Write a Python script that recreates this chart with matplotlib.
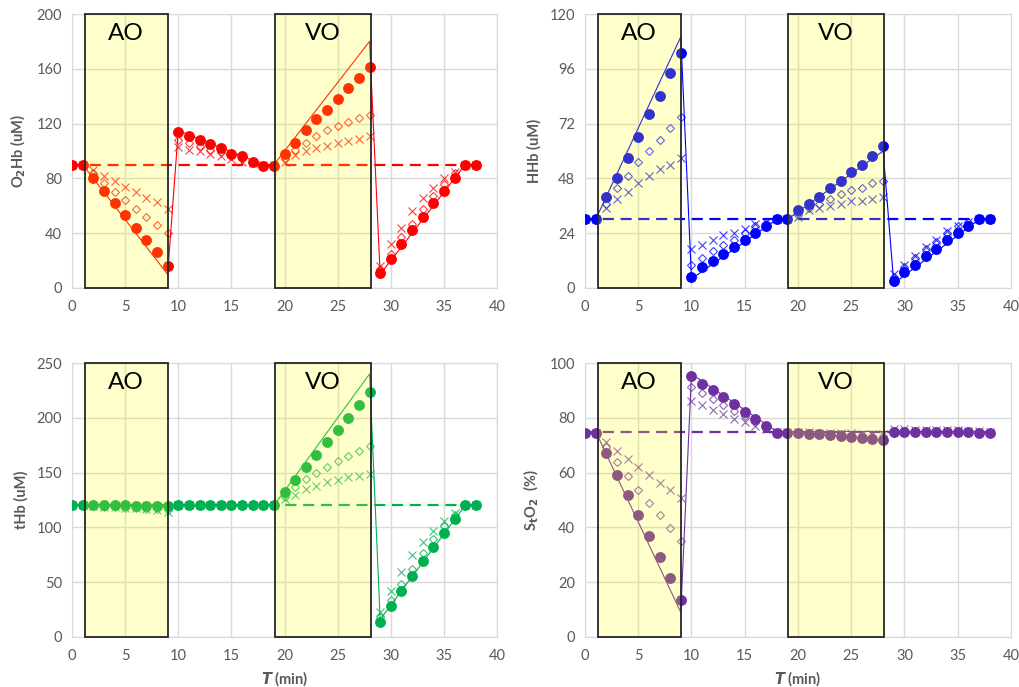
import matplotlib.pyplot as plt
from matplotlib.patches import Rectangle

plt.rcParams['font.family'] = ['Lato', 'DejaVu Sans']

t = list(range(39))

# O2Hb
o2hb_line_t = [0, 1, 9, 10, 18, 19, 28, 29, 37, 38]
o2hb_line = [90, 90, 10, 115, 90, 90, 180, 10, 90, 90]
o2hb_circ = [90, 90, 80, 71, 62, 53, 44, 35, 26, 16,
             114, 111, 108, 105, 102, 98, 96, 92, 89, 89,
             98, 106, 115, 123, 130, 138, 146, 153, 161,
             11, 21, 32, 42, 52, 62, 71, 80, 90, 90]
o2hb_diam = [90, 90, 84, 77, 70, 64, 58, 52, 46, 40,
             108, 106, 104, 101, 99, 96, 94, 92, 90, 90,
             94, 101, 106, 111, 115, 118, 121, 124, 126,
             14, 25, 37, 47, 58, 67, 76, 84, 90, 90]
o2hb_x = [90, 90, 86, 82, 78, 74, 70, 66, 63, 58,
          103, 101, 100, 98, 96, 94, 92, 91, 90, 90,
          92, 97, 100, 102, 104, 106, 107, 109, 111,
          16, 32, 44, 56, 66, 73, 80, 85, 90, 90]

# HHb
hhb_line_t = [0, 1, 9, 10, 18, 19, 28, 29, 37, 38]
hhb_line = [30, 30, 110, 4, 30, 30, 60, 2, 30, 30]
hhb_circ = [30, 30, 40, 48, 57, 66, 76, 84, 94, 103,
            5, 9, 12, 15, 18, 21, 24, 27, 30, 30,
            34, 37, 40, 44, 47, 51, 54, 58, 62,
            3, 7, 10, 14, 17, 21, 24, 27, 30, 30]
hhb_diam = [30, 30, 37, 44, 49, 55, 60, 65, 70, 75,
            10, 13, 16, 19, 21, 24, 27, 28, 30, 30,
            32, 35, 37, 39, 41, 43, 44, 46, 47,
            5, 9, 13, 17, 20, 24, 27, 29, 30, 30]
hhb_x = [30, 30, 35, 39, 42, 46, 49, 52, 54, 57,
         17, 19, 21, 23, 24, 26, 28, 29, 30, 30,
         31, 34, 35, 36, 37, 38, 38, 39, 40,
         6, 10, 14, 18, 21, 25, 27, 29, 30, 30]

# tHb
thb_line_t = [0, 19, 28, 29, 37, 38]
thb_line = [120, 120, 240, 16, 120, 120]
thb_circ = [120, 120, 120, 120, 120, 120, 119.5, 119.5, 119.5, 119.5,
            120, 120, 120, 120, 120, 120, 120, 120, 120, 120,
            132, 143, 155, 166, 178, 189, 200, 212, 224,
            14, 28, 42, 56, 69, 82, 95, 108, 120, 120]
thb_diam = [120, 120, 119.5, 119, 118.5, 118, 117.5, 117, 116.5, 116,
            120, 120, 120, 120, 120, 120, 120, 120, 120, 120,
            128, 137, 144, 150, 155, 161, 165, 170, 174,
            18, 34, 48, 62, 77, 89, 101, 111, 120, 120]
thb_x = [120, 120, 119.5, 119, 118.5, 118, 117.5, 116.5, 115.5, 114.5,
         120, 120, 120, 120, 120, 120, 120, 120, 120, 120,
         126, 130, 135, 138, 141, 143, 146, 147, 149,
         23, 42, 59, 75, 87, 97, 106, 113, 120, 120]

# StO2
so2_line_t = [0, 1, 9, 10, 18, 38]
so2_line = [75, 75, 9, 96, 75, 75]
so2_circ = [74.5, 74.5, 67, 59.3, 52, 44.5, 37, 29.2, 21.6, 13.6,
            95.2, 92.5, 90, 87.5, 85, 82.3, 79.7, 77, 74.5, 74.5,
            74.3, 74.2, 74, 73.7, 73.4, 73.1, 72.7, 72.4, 72,
            75, 75, 75, 74.9, 74.9, 74.8, 74.8, 74.7, 74.5, 74.5]
so2_diam = [74.5, 74.5, 69.5, 63.7, 58.7, 53.7, 49, 44.5, 39.8, 35.2,
            91.2, 88.9, 86.7, 84.7, 82.6, 80.6, 78.6, 76.5, 75, 75,
            74.6, 74.5, 74.4, 74.2, 74, 73.9, 73.7, 73.5, 73.3,
            75.3, 75.3, 75.3, 75.2, 75.2, 75.1, 75.1, 75, 75, 75]
so2_x = [74.5, 74.5, 71.3, 68, 64.9, 61.9, 59, 56.3, 53.6, 50.9,
         86.1, 84.5, 82.8, 81.3, 79.7, 78.6, 77, 75.8, 75, 75,
         74.8, 74.7, 74.6, 74.5, 74.4, 74.3, 74.2, 74.1, 74,
         75.8, 75.8, 75.7, 75.7, 75.6, 75.5, 75.4, 75.3, 75.2, 75]

# occlusion windows (min)
ao_win = (1.2, 9.0)
vo_win = (19.1, 28.1)

GRAY = '#595959'


def draw_panel(ax, color, line_t, line_y, circ, diam, xs, base, ymax, ystep, ylabel, xlabel=False):
    ax.plot([0, 38], [base, base], '--', color=color, lw=1.6, dashes=(5, 3), zorder=2)
    ax.plot(line_t, line_y, '-', color=color, lw=0.8, zorder=3)
    ax.plot(t, xs, 'x', color=color, ms=6.2, mew=0.8, alpha=0.75, ls='none', zorder=4)
    ax.plot(t, diam, 'D', mfc='none', mec=color, ms=4.5, mew=0.8, alpha=0.75, ls='none', zorder=5)
    ax.plot(t, circ, 'o', color=color, ms=6.8, ls='none', zorder=6)

    # shaded occlusion boxes sit over the data
    for (a, b), name in [(ao_win, 'AO'), (vo_win, 'VO')]:
        ax.add_patch(Rectangle((a, 0), b - a, 1.0, transform=ax.get_xaxis_transform(),
                               facecolor=(1, 1, 0, 0.2), edgecolor='none', zorder=7, clip_on=False))
        ax.add_patch(Rectangle((a, 0), b - a, 1.0, transform=ax.get_xaxis_transform(),
                               facecolor='none', edgecolor='#262626', lw=1.3, zorder=8, clip_on=False))
        ax.text((a + b) / 2, 0.93, name, transform=ax.get_xaxis_transform(),
                ha='center', va='center', fontsize=17.5, color='black', zorder=9)

    ax.set_xlim(0, 40)
    ax.set_ylim(0, ymax)
    ax.set_xticks(range(0, 41, 5))
    ax.set_yticks(range(0, ymax + 1, ystep))
    ax.grid(True, color='#d9d9d9', lw=1)
    ax.set_axisbelow(True)
    for s in ax.spines.values():
        s.set_color('#d9d9d9')
    ax.tick_params(length=0, labelsize=10.5, labelcolor=GRAY)
    ax.tick_params(axis='x', pad=9)
    ax.tick_params(axis='y', pad=7)
    ax.set_ylabel(ylabel, fontsize=10.5, fontweight='bold', color=GRAY, labelpad=6)
    if xlabel:
        ax.set_xlabel(r'$\boldsymbol{T}$ (min)', fontsize=10.5, fontweight='bold', color=GRAY,
                      labelpad=4)


fig = plt.figure(figsize=(10.2, 6.87), dpi=100)
ax1 = fig.add_axes([0.0706, 0.5808, 0.4167, 0.3988])
ax2 = fig.add_axes([0.5735, 0.5808, 0.4176, 0.3988])
ax3 = fig.add_axes([0.0706, 0.0728, 0.4167, 0.3988])
ax4 = fig.add_axes([0.5735, 0.0728, 0.4176, 0.3988])

draw_panel(ax1, '#ff0000', o2hb_line_t, o2hb_line, o2hb_circ, o2hb_diam, o2hb_x,
           90, 200, 40, r'O$_\mathbf{2}$Hb (uM)')
draw_panel(ax2, '#0000ff', hhb_line_t, hhb_line, hhb_circ, hhb_diam, hhb_x,
           30, 120, 24, 'HHb (uM)')
draw_panel(ax3, '#00b050', thb_line_t, thb_line, thb_circ, thb_diam, thb_x,
           120, 250, 50, 'tHb (uM)', xlabel=True)
draw_panel(ax4, '#7030a0', so2_line_t, so2_line, so2_circ, so2_diam, so2_x,
           75, 100, 20, r'S$_\mathbf{t}$O$_\mathbf{2}$  (%)', xlabel=True)

fig.savefig('out.png', dpi=100)
